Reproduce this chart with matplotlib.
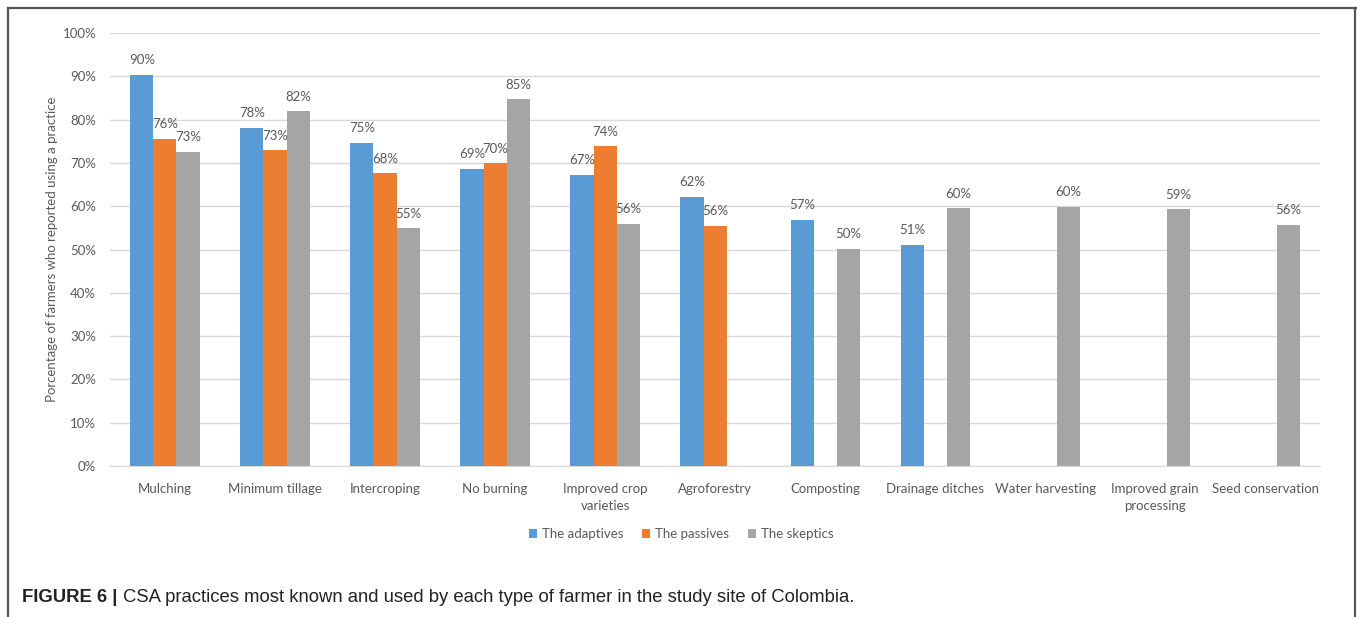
import numpy as np
import matplotlib
matplotlib.use("Agg")
from matplotlib import pyplot as plt
from matplotlib.lines import Line2D

categories = ["Mulching", "Minimum tillage", "Intercroping", "No burning",
              "Improved crop\nvarieties", "Agroforestry", "Composting",
              "Drainage ditches", "Water harvesting", "Improved grain\nprocessing",
              "Seed conservation"]
adaptives = [90.4, 78.1, 74.6, 68.6, 67.2, 62.2, 56.8, 51.1, None, None, None]
passives = [75.6, 72.9, 67.6, 69.9, 73.8, 55.5, None, None, None, None, None]
skeptics = [72.6, 81.9, 54.9, 84.7, 56.0, None, 50.2, 59.5, 59.9, 59.3, 55.7]
series_names = ["The adaptives", "The passives", "The skeptics"]
colors = ["#5B9BD5", "#ED7D31", "#A5A5A5"]

plt.rcParams['font.family'] = ['Lato', 'DejaVu Sans']
txt_color = "#595959"

fig = plt.figure(figsize=(13.57, 6.17), dpi=100)
ax = fig.add_axes([0.081, 0.2447, 0.892, 0.7018])

x = np.arange(len(categories))
w = 0.21
for k, (vals, name, col) in enumerate(zip([adaptives, passives, skeptics], series_names, colors)):
    xs = [xi + (k - 1) * w for xi, v in zip(x, vals) if v is not None]
    vs = [v for v in vals if v is not None]
    ax.bar(xs, vs, width=w, color=col, label=name, zorder=3)
    for xi, v in zip(xs, vs):
        ax.text(xi, v + 2.0, f"{round(v)}%", ha="center", va="bottom",
                fontsize=9.5, color=txt_color, zorder=4)

ax.set_xlim(-0.5, len(categories) - 0.5)
ax.set_ylim(0, 100)
ax.set_yticks(np.arange(0, 101, 10))
ax.set_yticklabels([f"{t}%" for t in range(0, 101, 10)])
ax.set_xticks(x)
ax.set_xticklabels(categories, linespacing=1.55)
ax.tick_params(axis="both", length=0, labelsize=9.5, colors=txt_color)
ax.tick_params(axis="x", pad=12)
ax.tick_params(axis="y", pad=10)
ax.grid(axis="y", color="#D9D9D9", linewidth=1, zorder=0)
for s in ["top", "right", "left"]:
    ax.spines[s].set_visible(False)
ax.spines["bottom"].set_color("#D9D9D9")
ax.set_ylabel("Porcentage of farmers who reported using a practice",
              fontsize=9.5, color=txt_color)
ax.yaxis.set_label_coords(-0.043, 0.5)

leg = fig.legend(loc="center", bbox_to_anchor=(0.502, 0.134), ncol=3, frameon=False,
                 fontsize=9.5, handlelength=0.6, handleheight=0.6, handletextpad=0.4,
                 columnspacing=1.4)
for t in leg.get_texts():
    t.set_color(txt_color)

# frame lines
fig.add_artist(Line2D([0.0059, 0.0059], [0, 0.987], transform=fig.transFigure, color="#555555", lw=1.6))
fig.add_artist(Line2D([0.0059, 0.9993], [0.987, 0.987], transform=fig.transFigure, color="#555555", lw=1.6))
fig.add_artist(Line2D([0.9985, 0.9985], [0, 0.987], transform=fig.transFigure, color="#555555", lw=1.6))

# caption
cap_font = ['Liberation Sans', 'DejaVu Sans']
t1 = fig.text(0.0162, 0.024, "FIGURE 6 |", fontsize=13.3, fontweight="bold",
              family=cap_font, color="#222222", va="baseline")
fig.canvas.draw()
bb = t1.get_window_extent(renderer=fig.canvas.get_renderer())
x_end = bb.x1 / fig.bbox.width
fig.text(x_end + 0.0045, 0.024, "CSA practices most known and used by each type of farmer in the study site of Colombia.",
         fontsize=13.3, family=cap_font, color="#222222", va="baseline")

fig.savefig("out.png", dpi=100)
